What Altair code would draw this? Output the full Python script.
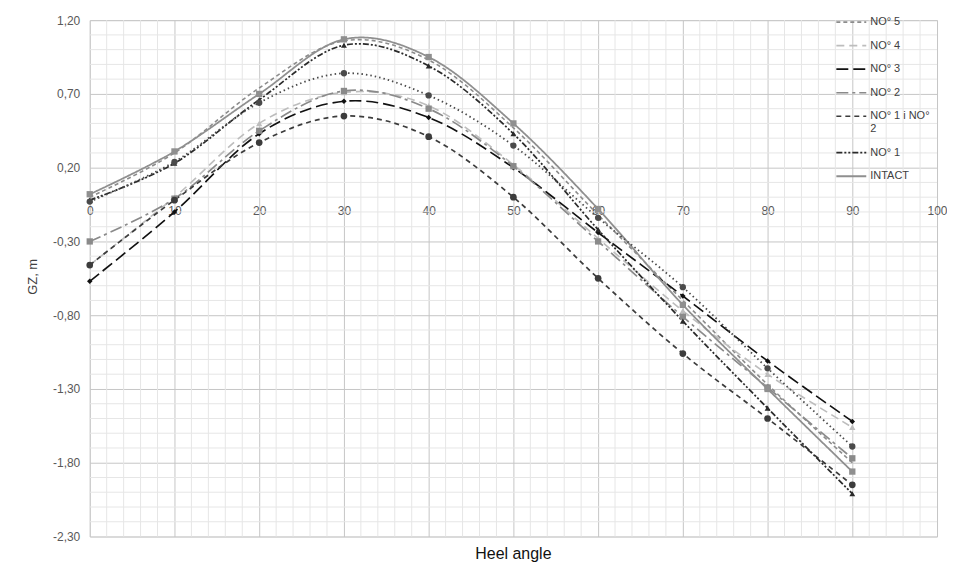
import altair as alt
import pandas as pd

angles = [0, 10, 20, 30, 40, 50, 60, 70, 80, 90]

intact = [0.02, 0.31, 0.70, 1.07, 0.95, 0.50, -0.08, -0.73, -1.30, -1.86]
no1 = [-0.02, 0.23, 0.66, 1.03, 0.89, 0.43, -0.22, -0.84, -1.43, -2.01]
no1_no2 = [-0.46, -0.02, 0.37, 0.55, 0.41, 0.00, -0.55, -1.06, -1.50, -1.95]
no2 = [-0.30, -0.01, 0.45, 0.72, 0.60, 0.21, -0.30, -0.81, -1.29, -1.77]
no3 = [-0.57, -0.10, 0.43, 0.65, 0.54, 0.20, -0.24, -0.67, -1.11, -1.52]
no4 = [-0.46, 0.00, 0.50, 0.71, 0.62, 0.22, -0.28, -0.77, -1.20, -1.56]
no5 = [0.00, 0.30, 0.74, 1.06, 0.93, 0.47, -0.12, -0.70, -1.27, -1.80]
dotted = [-0.03, 0.24, 0.64, 0.84, 0.69, 0.35, -0.14, -0.61, -1.16, -1.69]

names = ["NO° 5", "NO° 4", "NO° 3", "NO° 2", "NO° 1 i NO° 2", "NO° 1", "INTACT", "series 8"]
legend_names = names[:7]
values = [no5, no4, no3, no2, no1_no2, no1, intact, dotted]

y_ticks = [1.20, 0.70, 0.20, -0.30, -0.80, -1.30, -1.80, -2.30]
x_ticks = [0, 10, 20, 30, 40, 50, 60, 70, 80, 90, 100]

colors = ["#8c8c8c", "#bdbdbd", "#111111", "#8a8a8a", "#3c3c3c", "#2a2a2a", "#8f8f8f", "#4a4a4a"]
dashes = [[4, 3], [8, 5], [12, 5], [12, 4, 3, 4], [5, 4], [6, 2, 2, 2, 2, 2], [1, 0], [1.5, 3]]
widths = [1.6, 1.8, 2.2, 1.8, 1.8, 1.2, 2.0, 1.5]
shapes = [None, "triangle-up", "diamond", "square", "circle", "triangle-up", "square", "circle"]
msizes = [0, 40, 30, 40, 45, 35, 40, 40]

rows = []
for n, vals in zip(names, values):
    for a, v in zip(angles, vals):
        rows.append({"angle": a, "gz": v, "series": n})
df = pd.DataFrame(rows)

# minor grid positions
minor_x = [v for v in range(0, 101, 2) if v % 10 != 0]
minor_y = []
for k in range(36):
    v = round(-2.3 + 0.1 * k, 2)
    if all(abs(v - t) > 1e-6 for t in y_ticks):
        minor_y.append(v)

W, H = 850, 518
y0_px = 1.2 / 3.5 * H

xscale = alt.Scale(domain=[0, 100], nice=False, zero=False)
yscale = alt.Scale(domain=[-2.3, 1.2], nice=False, zero=False)

legend_cfg = dict(
    orient="none", legendX=748, legendY=-14, title=None, values=legend_names,
    symbolType="stroke", symbolSize=900, symbolStrokeWidth=2,
    labelFontSize=11, labelColor="#404040", labelFont="Liberation Sans",
    rowPadding=2.6, labelOffset=3, padding=0,
    labelExpr="datum.label == 'NO° 1 i NO° 2' ? ['NO° 1 i NO°', '2'] : datum.label",
)

x_enc = alt.X("angle:Q", scale=xscale, axis=alt.Axis(
    values=x_ticks, title=None, offset=-(H - y0_px), grid=True, gridColor="#c6c6c6",
    gridWidth=1, domain=False, ticks=False, labelPadding=8, labelFontSize=12,
    labelColor="#595959", labelFont="Liberation Sans", labelFlush=False))
y_enc = alt.Y("gz:Q", scale=yscale, axis=alt.Axis(
    values=y_ticks, title="GZ, m", grid=True, gridColor="#c6c6c6", gridWidth=1,
    domain=False, ticks=False, labelPadding=10, labelFontSize=12, labelColor="#595959",
    labelFont="Liberation Sans",
    labelExpr="replace(replace(format(datum.value, '.2f'), '.', ','), '\u2212', '-')",
    titleFont="Liberation Sans", titleFontSize=13, titleFontWeight="normal",
    titleColor="#404040", titleAngle=-90, titleX=-57, titleY=257,
    titleAlign="center", titleBaseline="middle"))

vgrid = alt.Chart(pd.DataFrame({"gx": minor_x})).mark_rule(
    color="#e6e6e6", strokeWidth=1).encode(x=alt.X("gx:Q", scale=xscale))
hgrid = alt.Chart(pd.DataFrame({"gy": minor_y})).mark_rule(
    color="#e6e6e6", strokeWidth=1).encode(y=alt.Y("gy:Q", scale=yscale))

lines = alt.Chart(df).mark_line(interpolate="cardinal").encode(
    x=x_enc,
    y=y_enc,
    color=alt.Color("series:N", scale=alt.Scale(domain=names, range=colors),
                    legend=alt.Legend(**legend_cfg)),
    strokeDash=alt.StrokeDash("series:N", scale=alt.Scale(domain=names, range=dashes),
                              legend=alt.Legend(**legend_cfg)),
    strokeWidth=alt.StrokeWidth("series:N", scale=alt.Scale(domain=names, range=widths),
                                legend=None),
    detail="series:N",
)

point_layers = []
for n, c, s, sz in zip(names, colors, shapes, msizes):
    if s is None:
        continue
    point_layers.append(
        alt.Chart(df).transform_filter(alt.datum.series == n).mark_point(
            filled=True, opacity=1, shape=s, color=c, size=sz, strokeWidth=0
        ).encode(x="angle:Q", y="gz:Q")
    )

chart = alt.layer(vgrid, hgrid, lines, *point_layers).properties(
    width=W, height=H,
    autosize=alt.AutoSizeParams(type="none"),
    padding={"left": 82, "top": 11.3, "right": 10, "bottom": 28},
    title=alt.TitleParams("Heel angle", orient="bottom", anchor="middle",
                          font="Liberation Sans", fontSize=16, fontWeight="normal",
                          color="#111111", offset=4),
).configure_view(stroke=None).configure(background="white")

chart.save("out.html", embed_options={"renderer": "svg", "actions": False})
